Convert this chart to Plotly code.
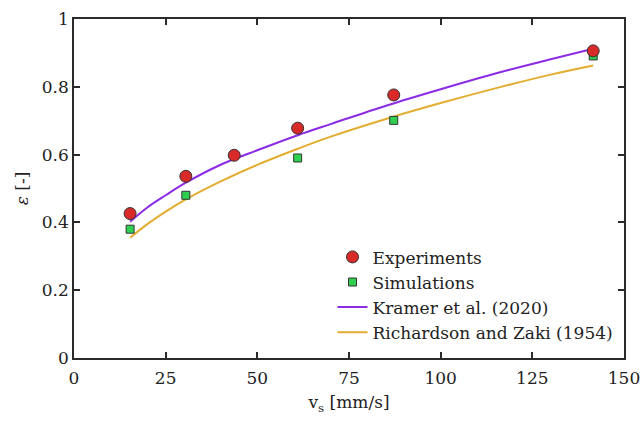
import plotly.graph_objects as go

# Data
exp_x = [15.3, 30.5, 43.7, 61.0, 87.2, 141.6]
exp_y = [0.426, 0.536, 0.598, 0.678, 0.776, 0.906]

sim_x = [15.3, 30.5, 61.0, 87.2, 141.6]
sim_y = [0.380, 0.480, 0.590, 0.701, 0.891]

kr_x = [15.3, 20, 25, 30.5, 40, 49.8, 61.2, 70, 85.3, 100, 116.2, 130, 141.6]
kr_y = [0.402, 0.444, 0.480, 0.517, 0.570, 0.612, 0.658, 0.690, 0.745, 0.793, 0.843, 0.881, 0.912]

rz_x = [15.3, 20, 25, 30.5, 40, 49.8, 61.2, 70, 85.3, 100, 116.2, 130, 141.6]
rz_y = [0.355, 0.395, 0.432, 0.468, 0.521, 0.569, 0.618, 0.653, 0.706, 0.752, 0.799, 0.836, 0.863]

x_ticks = [0, 25, 50, 75, 100, 125, 150]
y_ticks = [0, 0.2, 0.4, 0.6, 0.8, 1]
y_tick_labels = ["0", "0.2", "0.4", "0.6", "0.8", "1"]

FONT = "DejaVu Serif"
FS = 17
AX = "#2b2b2b"
TXT = "#222222"

fig = go.Figure()
fig.add_trace(go.Scatter(x=kr_x, y=kr_y, mode="lines", line=dict(color="#8c2be6", width=2, shape="spline", smoothing=1),
                         name="Kramer et al. (2020)", legendrank=3))
fig.add_trace(go.Scatter(x=rz_x, y=rz_y, mode="lines", line=dict(color="#e2ad30", width=2, shape="spline", smoothing=1),
                         name="Richardson and Zaki (1954)", legendrank=4))
fig.add_trace(go.Scatter(x=sim_x, y=sim_y, mode="markers",
                         marker=dict(symbol="square", size=8, color="#2fd050", line=dict(color="#333333", width=1)),
                         name="Simulations", legendrank=2))
fig.add_trace(go.Scatter(x=exp_x, y=exp_y, mode="markers",
                         marker=dict(symbol="circle", size=12, color="#d92a2a", line=dict(color="#333333", width=1)),
                         name="Experiments", legendrank=1))

fig.update_layout(
    width=641, height=421,
    margin=dict(l=74, r=17, t=19, b=63, autoexpand=False),
    paper_bgcolor="white", plot_bgcolor="white",
    font=dict(family=FONT, size=FS, color=TXT),
    showlegend=True,
    legend=dict(x=0.47, y=0.35, xanchor="left", yanchor="top", bgcolor="rgba(0,0,0,0)",
                font=dict(family=FONT, size=FS, color=TXT), tracegroupgap=0, itemwidth=30),
    xaxis=dict(range=[0, 150], tickvals=x_ticks, ticks="inside", ticklen=6, tickwidth=1.5, tickcolor=AX,
               showline=True, linecolor=AX, linewidth=1.5, mirror="ticks", showgrid=False, zeroline=False,
               tickfont=dict(family=FONT, size=FS, color=TXT), ticklabelstandoff=4,
               title=dict(text="v<sub>s</sub> [mm/s]", standoff=9, font=dict(family=FONT, size=FS, color=TXT))),
    yaxis=dict(range=[0, 1], tickvals=y_ticks, ticktext=y_tick_labels, ticks="inside", ticklen=6, tickwidth=1.5,
               tickcolor=AX, showline=True, linecolor=AX, linewidth=1.5, mirror="ticks", showgrid=False,
               zeroline=False, tickfont=dict(family=FONT, size=FS, color=TXT),
               title=dict(text="<i>ε</i> [-]", standoff=9, font=dict(family=FONT, size=FS, color=TXT))),
)

fig.write_html("out.html")
